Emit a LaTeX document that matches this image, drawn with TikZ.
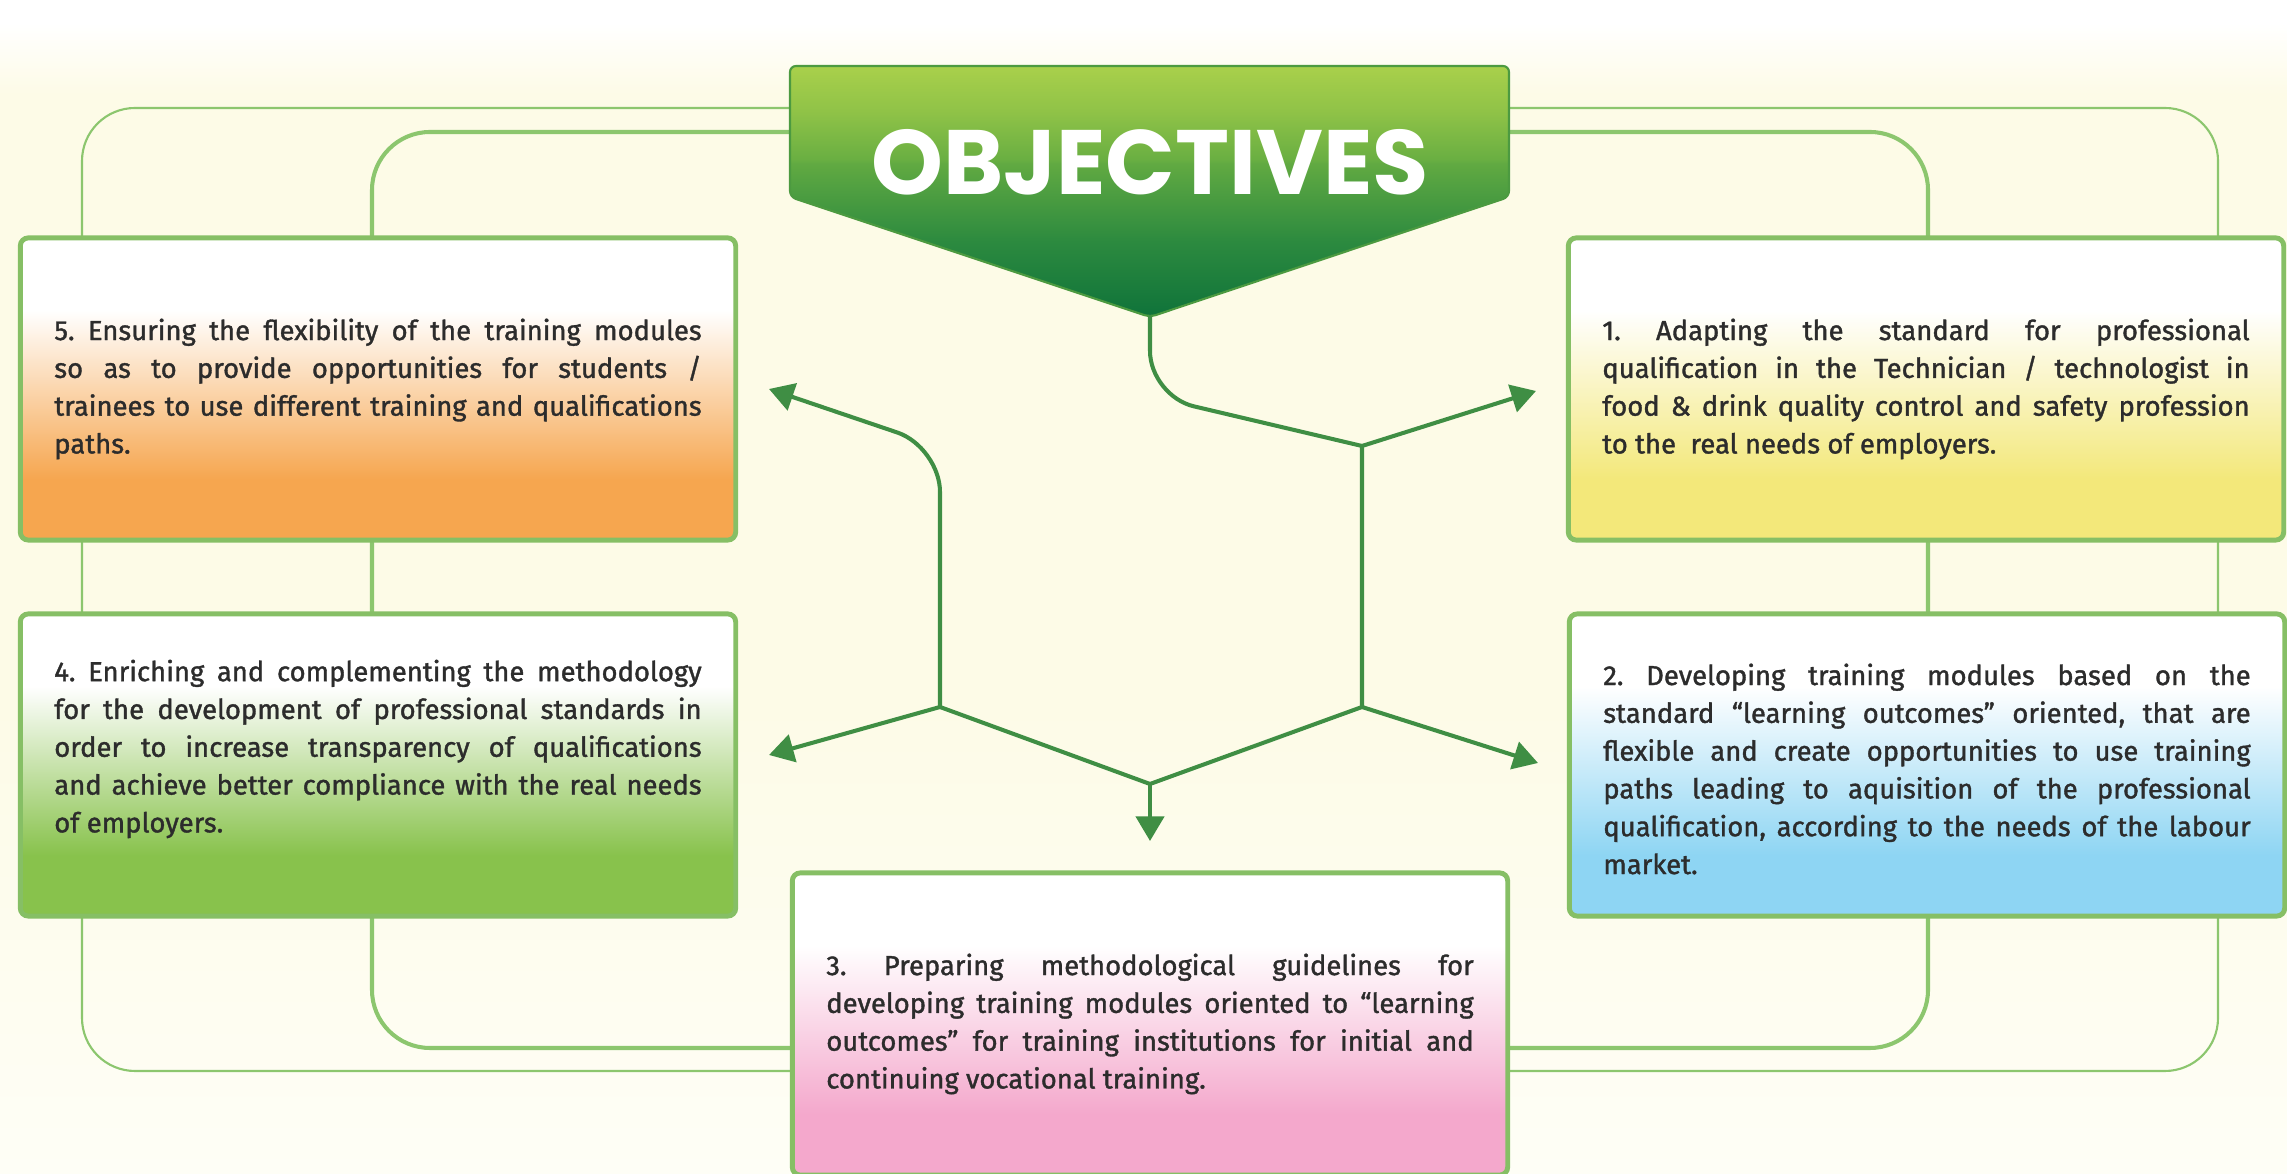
\documentclass[tikz,border=0pt]{standalone}
\usepackage{fontspec}
\usepackage{graphicx}
\setmainfont{Fira Sans}
\newfontfamily\boxfont{Fira Sans}[FakeBold=1.3]
\newfontfamily\titlefont{Poppins}
\usetikzlibrary{arrows.meta}

\definecolor{bgcream}{HTML}{FDFBE7}
\definecolor{bglow}{HTML}{FEFEF6}
\definecolor{boxorange}{HTML}{F6A64F}
\definecolor{boxyellow}{HTML}{F3E87A}
\definecolor{boxgreen}{HTML}{88C24C}
\definecolor{boxblue}{HTML}{8ED5F3}
\definecolor{boxpink}{HTML}{F4A8CC}
\definecolor{boxline}{HTML}{86BF65}
\definecolor{frameline}{HTML}{8CC66E}
\definecolor{linkgreen}{HTML}{3F8E44}
\definecolor{textgray}{HTML}{2C2C2C}
\definecolor{bantop}{HTML}{A9D04B}
\definecolor{banlight}{HTML}{6AAF42}
\definecolor{banmid}{HTML}{2C8A3F}
\definecolor{bandark}{HTML}{0F733A}
\definecolor{banline}{HTML}{4C9A40}

% vertical shadings: 25bp = bottom of the path, 75bp = top
\pgfdeclareverticalshading{bgshade}{100bp}{color(0bp)=(bglow); color(25bp)=(bglow); color(45bp)=(bgcream); color(71bp)=(bgcream); color(74bp)=(white); color(100bp)=(white)}
\pgfdeclareverticalshading{bannershade}{100bp}{color(0bp)=(bandark); color(25bp)=(bandark); color(40bp)=(banmid); color(55.5bp)=(banlight!85!banmid); color(56.5bp)=(banlight); color(66bp)=(bantop!60!banlight); color(75bp)=(bantop); color(100bp)=(bantop)}
\newcommand\boxshade[2]{\pgfdeclareverticalshading{#1}{100bp}{color(0bp)=(#2); color(35bp)=(#2); color(63bp)=(white); color(100bp)=(white)}}
\boxshade{orangeshade}{boxorange}
\boxshade{yellowshade}{boxyellow}
\boxshade{greenshade}{boxgreen}
\boxshade{blueshade}{boxblue}
\boxshade{pinkshade}{boxpink}

\tikzset{
  objbox/.style={rectangle, rounded corners=0.08cm, draw=boxline, line width=1.4pt,
    minimum width=7.15cm, minimum height=3.02cm, inner sep=0pt, shade},
  boxtext/.style={text width=6.47cm, align=justify, inner sep=0pt, text=textgray,
    font=\boxfont\fontsize{7.8}{10.75}\selectfont\frenchspacing},
  link/.style={draw=linkgreen, line width=1.15pt, line cap=round},
  arrowlink/.style={link, -{Triangle[length=7pt,width=8pt]}}
}

\begin{document}
\begin{tikzpicture}[x=0.01cm, y=-0.01cm]
\useasboundingbox (0,0) rectangle (2287,1174);
\shade [shading=bgshade] (0,0) rectangle (2287,1174);
%\draw [very thin, gray] (0,0) grid [step=100] (2287,1174);

% frames behind the boxes
\draw [frameline, line width=0.6pt] [rounded corners=0.53cm] (82,108) rectangle (2218,1071);
\draw [frameline, line width=1.15pt] [rounded corners=0.58cm] (372,132) rectangle (1928,1048);

% banner
\shadedraw [shading=bannershade, draw=banline, line width=0.6pt] [rounded corners=0.06cm]
  (790,66) -- (1509,66) -- (1509,197) -- (1150,317) -- (790,197) -- cycle;
\node [text=white, font=\titlefont\bfseries, inner sep=0pt] (title) at (1150,162) {\resizebox{5.57cm}{!}{OBJECTIVES}};

% objective boxes
\node [objbox, shading=yellowshade] (b1) at (1926,389) {};
\node [objbox, shading=blueshade] (b2) at (1927,765) {};
\node [objbox, shading=pinkshade] (b3) at (1150,1024) {};
\node [objbox, shading=greenshade] (b4) at (378,765) {};
\node [objbox, shading=orangeshade] (b5) at (378,389) {};

\node [boxtext] (t1) at (b1.center) {1. Adapting the standard for professional\linebreak qualification in the Technician / technologist in\linebreak food \& drink quality control and safety profession\linebreak to the\ \ real needs of employers.};
\node [boxtext] (t2) at ([yshift=-0.04cm]b2.center) {2. Developing training modules based on the\linebreak standard “learning outcomes” oriented, that are\linebreak flexible and create opportunities to use training\linebreak paths leading to aquisition of the professional\linebreak qualification, according to the needs of the labour\linebreak market.};
\node [boxtext] (t3) at (b3.center) {3. Preparing methodological guidelines for\linebreak developing training modules oriented to “learning\linebreak outcomes” for training institutions for initial and\linebreak continuing vocational training.};
\node [boxtext] (t4) at ([yshift=0.16cm]b4.center) {4. Enriching and complementing the methodology\linebreak for the development of professional standards in\linebreak order to increase transparency of qualifications\linebreak and achieve better compliance with the real needs\linebreak of employers.};
\node [boxtext] (t5) at (b5.center) {5. Ensuring the flexibility of the training modules\linebreak so as to provide opportunities for students /\linebreak trainees to use different training and qualifications\linebreak paths.};

% connectors
\coordinate (tip) at (1150,317);
\coordinate (jtop) at (1362,446);
\coordinate (jright) at (1362,707);
\coordinate (jbot) at (1150,784);
\coordinate (jleft) at (940,707);
\coordinate (a1) at (1536,391);
\coordinate (a2) at (1538,763);
\coordinate (a3) at (1150,841);
\coordinate (a4) at (769,755);
\coordinate (a5) at (769,389);

\draw [link] [rounded corners=0.45cm] (tip) -- (1150,396) -- (jtop);
\draw [link] (jtop) -- (jright) -- (jbot) -- (jleft);
\draw [arrowlink] [rounded corners=0.45cm] (jleft) -- (940,447) -- (a5);
\draw [arrowlink] (jtop) -- (a1);
\draw [arrowlink] (jright) -- (a2);
\draw [arrowlink] (jbot) -- (a3);
\draw [arrowlink] (jleft) -- (a4);
\end{tikzpicture}
\end{document}
